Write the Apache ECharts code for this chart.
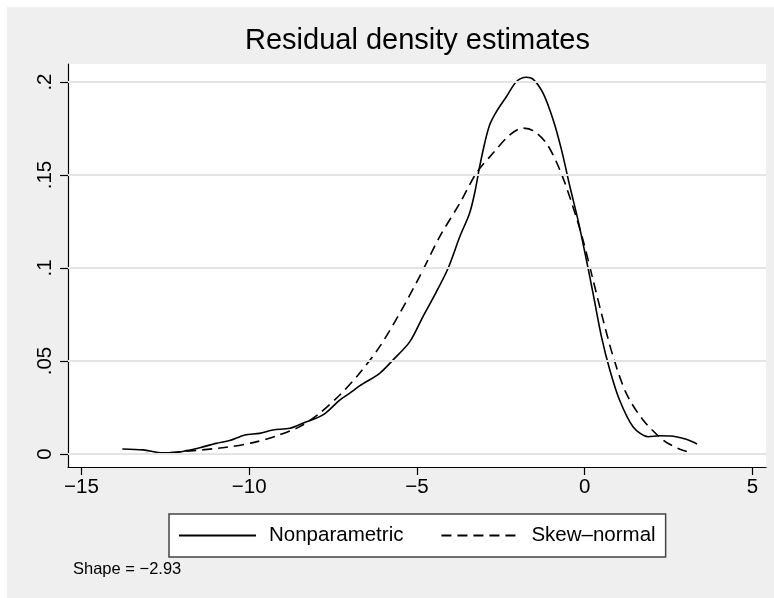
<!DOCTYPE html>
<html>
<head>
<meta charset="utf-8">
<script src="https://cdn.jsdelivr.net/npm/echarts@6/dist/echarts.min.js"></script>
<style>html,body{margin:0;padding:0;background:#fff}#c{width:774px;height:598px}</style>
</head>
<body>
<div id="c"></div>
<script>
// Nonparametric kernel density (solid)
var npX = [-13.78,-13.16,-12.57,-12.27,-11.87,-11.47,-10.98,-10.58,-10.13,-9.69,-9.29,-8.79,-8.40,-7.80,-7.30,-7.01,-6.71,-6.11,-5.71,-5.21,-4.82,-4.52,-4.07,-3.72,-3.43,-3.28,-3.13,-2.98,-2.83,-2.63,-2.33,-2.03,-1.74,-1.54,-1.24,-0.94,-0.69,-0.44,-0.20,0.01,0.25,0.50,0.75,1.04,1.44,1.89,2.24,2.54,3.03,3.35];
var npY = [0.0027,0.0022,0.0007,0.0007,0.0018,0.0034,0.0057,0.0072,0.0102,0.0111,0.0129,0.0138,0.0165,0.0210,0.0290,0.0326,0.0366,0.0434,0.0506,0.0604,0.0739,0.0838,0.0999,0.1169,0.1295,0.1402,0.1545,0.1671,0.1770,0.1841,0.1922,0.2003,0.2026,0.2016,0.1940,0.1797,0.1635,0.1438,0.1259,0.1080,0.0864,0.0631,0.0452,0.0290,0.0147,0.0093,0.0098,0.0097,0.0079,0.0054];
// Skew-normal fit (dashed)
var snX = [-13.78,-12.67,-11.67,-10.68,-9.88,-9.19,-8.49,-7.90,-7.30,-6.71,-6.11,-5.51,-4.92,-4.32,-3.72,-3.23,-2.73,-2.23,-1.84,-1.54,-1.14,-0.74,-0.35,-0.05,0.25,0.55,0.85,1.24,1.74,2.34,2.84,3.19];
var snY = [0.0000,0.0004,0.0018,0.0036,0.0061,0.0097,0.0147,0.0219,0.0317,0.0434,0.0577,0.0757,0.0954,0.1169,0.1349,0.1510,0.1618,0.1716,0.1752,0.1739,0.1671,0.1528,0.1330,0.1151,0.0936,0.0721,0.0523,0.0326,0.0183,0.0075,0.0025,0.0007];
var xTicks = [-15,-10,-5,0,5];
var yTicks = [0,0.05,0.1,0.15,0.2];
var yTickLabels = ['0','.05','.1','.15','.2'];
var seriesNames = ['Nonparametric','Skew\u2013normal'];
var titleText = 'Residual density estimates';
var noteText = 'Shape = \u22122.93';

function pairs(xs, ys){ return xs.map(function(x,i){ return [x, ys[i]]; }); }

var FONT = '"Liberation Sans", Arial, Helvetica, sans-serif';
var chart = echarts.init(document.getElementById('c'), null, {renderer:'canvas'});
chart.setOption({
  backgroundColor: '#efefef',
  animation: false,
  textStyle: {fontFamily: FONT},
  title: {
    text: titleText, left: 240, top: 21,
    textStyle: {fontFamily: FONT, fontSize: 29, fontWeight: 'normal', color: '#000'}
  },
  graphic: [
    {type:'rect', left:0, top:0, shape:{width:774,height:7}, style:{fill:'#fff'}, silent:true},
    {type:'rect', left:0, top:0, shape:{width:7,height:598}, style:{fill:'#fff'}, silent:true},
    {type:'text', left:73, top:561, style:{text: noteText, font: '16.5px ' + FONT, fill:'#000'}}
  ],
  grid: {left:68, top:64, right:8, bottom:131, show:true, backgroundColor:'#fff', borderWidth:0},
  legend: {
    data: seriesNames,
    left: 169, top: 514,
    padding: [11, 10, 11, 9],
    itemWidth: 77, itemHeight: 16, itemGap: 37,
    itemStyle: {opacity: 0},
    backgroundColor: '#fff', borderColor: '#444', borderWidth: 1.5, borderRadius: 0,
    textStyle: {fontFamily: FONT, fontSize: 20.5, color: '#000', padding: [0,0,0,8]}
  },
  xAxis: {
    type: 'value', min: -15.4, max: 5.405,
    axisLine: {show:true, onZero:false, lineStyle:{color:'#000', width:1.2}},
    axisTick: {show:true, length:8, customValues: xTicks, lineStyle:{color:'#000', width:1.2}},
    axisLabel: {customValues: xTicks, margin: 10, fontSize: 20.5, color:'#000', fontFamily: FONT,
      formatter: function(v){ return v < 0 ? '\u2212' + Math.abs(v) : String(v); }},
    splitLine: {show:false}
  },
  yAxis: {
    type: 'value', min: -0.007, max: 0.2097,
    axisLine: {show:true, onZero:false, lineStyle:{color:'#000', width:1.2}},
    axisTick: {show:true, length:8, customValues: yTicks, lineStyle:{color:'#000', width:1.2}},
    axisLabel: {customValues: yTicks, rotate: 90, margin: 12, fontSize: 20.5, color:'#000', fontFamily: FONT,
      formatter: function(v){ var i = yTicks.indexOf(Math.round(v*100)/100); return i >= 0 ? yTickLabels[i] : ''; }},
    splitLine: {show:false}
  },
  series: [
    {
      name: 'grid', type: 'line', data: [], z: 1, silent: true,
      markLine: {silent:true, symbol:['none','none'], label:{show:false},
        lineStyle:{color:'#e4e4e4', width:2, type:'solid'},
        data: yTicks.map(function(v){ return {yAxis: v}; })}
    },
    {
      name: seriesNames[0], type: 'line', data: pairs(npX, npY), z: 3,
      showSymbol: false, symbol: 'none', smooth: 0.3,
      lineStyle: {color:'#000', width:1.6, type:'solid'}, itemStyle:{color:'#000'}
    },
    {
      name: seriesNames[1], type: 'line', data: pairs(snX, snY), z: 3,
      showSymbol: false, symbol: 'none', smooth: 0.3,
      lineStyle: {color:'#000', width:1.6, type:[10,6]}, itemStyle:{color:'#000'}
    }
  ]
});
</script>
</body>
</html>
